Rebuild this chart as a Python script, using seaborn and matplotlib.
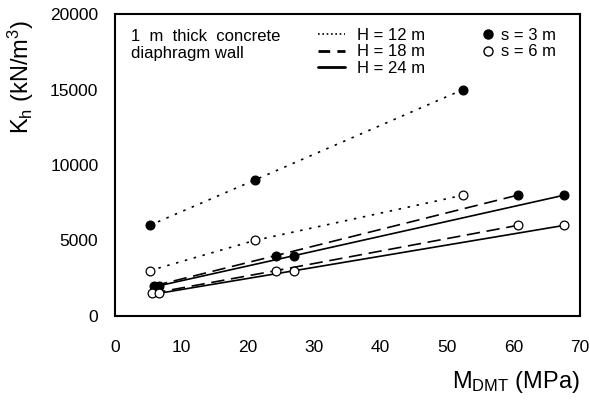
import matplotlib
matplotlib.use("Agg")
import matplotlib.pyplot as plt
from matplotlib.lines import Line2D
import seaborn as sns
import pandas as pd

# ---- data ----
H_levels = ["H = 12 m", "H = 18 m", "H = 24 m"]
s_levels = ["s = 3 m", "s = 6 m"]

h12_s3_x = [5.2, 21.0, 52.4]
h12_s3_y = [6000, 9000, 15000]
h12_s6_x = [5.2, 21.0, 52.4]
h12_s6_y = [3000, 5000, 8000]
h18_s3_x = [5.9, 24.2, 60.6]
h18_s3_y = [2000, 4000, 8000]
h18_s6_x = [5.6, 24.2, 60.6]
h18_s6_y = [1500, 3000, 6000]
h24_s3_x = [6.6, 27.0, 67.6]
h24_s3_y = [2000, 4000, 8000]
h24_s6_x = [6.6, 27.0, 67.6]
h24_s6_y = [1500, 3000, 6000]

x_ticks = [0, 10, 20, 30, 40, 50, 60, 70]
y_ticks = [0, 5000, 10000, 15000, 20000]

series = [
    ("H = 12 m", "s = 3 m", h12_s3_x, h12_s3_y),
    ("H = 12 m", "s = 6 m", h12_s6_x, h12_s6_y),
    ("H = 18 m", "s = 3 m", h18_s3_x, h18_s3_y),
    ("H = 18 m", "s = 6 m", h18_s6_x, h18_s6_y),
    ("H = 24 m", "s = 3 m", h24_s3_x, h24_s3_y),
    ("H = 24 m", "s = 6 m", h24_s6_x, h24_s6_y),
]

sns.set_style("white")
plt.rcParams["font.family"] = ["Liberation Sans", "DejaVu Sans"]
plt.rcParams["mathtext.default"] = "regular"
plt.rcParams["text.color"] = "black"
plt.rcParams["axes.labelcolor"] = "black"
plt.rcParams["xtick.color"] = "black"
plt.rcParams["ytick.color"] = "black"

line_styles = {
    "H = 12 m": (0, (1.5, 4)),
    "H = 18 m": (0, (8, 4)),
    "H = 24 m": "-",
}
legend_styles = {
    "H = 12 m": (0, (1, 1.6)),
    "H = 18 m": (0, (4.2, 2.6)),
    "H = 24 m": "-",
}
marker_face = {"s = 3 m": "black", "s = 6 m": "white"}

fig = plt.figure(figsize=(5.9, 4.03), dpi=100)
ax = fig.add_axes([0.195, 0.216, 0.788, 0.749])

for h, s, xs, ys in series:
    df = pd.DataFrame({"x": xs, "y": ys})
    sns.lineplot(data=df, x="x", y="y", ax=ax, color="black", lw=1.2,
                 linestyle=line_styles[h], zorder=2)
    sns.scatterplot(data=df, x="x", y="y", ax=ax, s=40, marker="o",
                    facecolor=marker_face[s], edgecolor="black",
                    linewidth=0.9, zorder=3)

ax.set_xlim(0, 70)
ax.set_ylim(0, 20000)
ax.set_xticks(x_ticks)
ax.set_yticks(y_ticks)
ax.tick_params(direction="in", length=5, width=1.2, colors="black",
               labelsize=12.5, top=False, right=False)
ax.tick_params(axis="x", pad=17)
ax.tick_params(axis="y", pad=12)
for sp in ax.spines.values():
    sp.set_color("black")
    sp.set_linewidth(1.5)

ax.set_xlabel(r"M$_{DMT}$ (MPa)", fontsize=17, color="black")
ax.set_ylabel(r"K$_{h}$ (kN/m$^{3}$)", fontsize=17, color="black")
ax.xaxis.set_label_coords(0.862, -0.175)
ax.yaxis.set_label_coords(-0.17, 0.79)

ax.text(0.034, 0.95, "1  m  thick  concrete\ndiaphragm wall",
        transform=ax.transAxes, ha="left", va="top", fontsize=12,
        linespacing=1.15, color="black")

h_handles = [Line2D([], [], color="black",
                    lw=1.2 if h == "H = 12 m" else 2.0,
                    linestyle=legend_styles[h]) for h in H_levels]
leg1 = ax.legend(h_handles, H_levels, loc="upper left",
                 bbox_to_anchor=(0.437, 0.955), frameon=False, fontsize=12,
                 handlelength=1.6, handletextpad=0.7, labelspacing=0.1,
                 borderpad=0, borderaxespad=0, labelcolor="black")
ax.add_artist(leg1)

s_handles = [Line2D([], [], color="black", lw=0, marker="o", markersize=6.5,
                    markerfacecolor=marker_face[s], markeredgecolor="black")
             for s in s_levels]
ax.legend(s_handles, s_levels, loc="upper left",
          bbox_to_anchor=(0.788, 0.955), frameon=False, fontsize=12,
          handlelength=0.8, handletextpad=0.4, labelspacing=0.1,
          borderpad=0, borderaxespad=0, labelcolor="black")

fig.savefig("out.png", dpi=100)
